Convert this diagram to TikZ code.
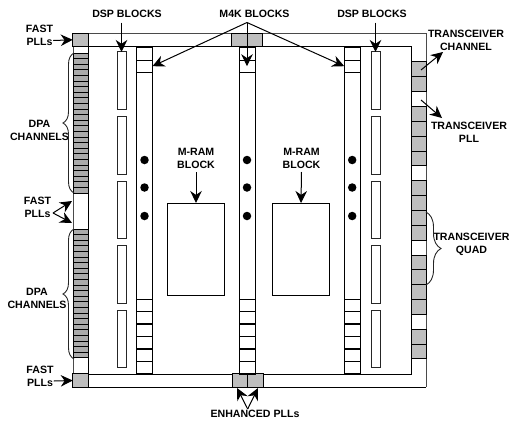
\documentclass[tikz,border=0pt]{standalone}
\usepackage{fontspec}
\setmainfont{Liberation Sans}
\usetikzlibrary{arrows.meta,decorations.pathreplacing}
\definecolor{blockgray}{HTML}{BEBEBE}
\definecolor{rowgray}{HTML}{ABABAB}
\definecolor{framegray}{HTML}{4A4A4A}
\tikzset{
  cellbox/.style={draw, line width=1pt, inner sep=0pt, outer sep=0pt, fill=white},
  graybox/.style={cellbox, fill=blockgray},
  dpabox/.style={cellbox, fill=rowgray, minimum width=15pt, minimum height=5.6pt},
  xcvrbox/.style={cellbox, fill=blockgray, minimum width=15pt, minimum height=14.85pt},
  dspbox/.style={cellbox, draw=black!85, minimum width=9pt, minimum height=57.5pt},
  m4kbox/.style={cellbox, minimum width=16pt, minimum height=12.4pt},
  rambox/.style={cellbox, minimum width=57pt, minimum height=92pt},
  pllbox/.style={graybox, minimum width=15.5pt, minimum height=13.5pt},
  dot/.style={circle, fill=black, inner sep=0pt, minimum size=8.5pt},
  lab/.style={align=center, inner sep=0pt, font=\fontsize{10.6}{13.2}\selectfont\bfseries},
  arr/.style={-{Stealth[length=12pt,width=11.5pt]}, line width=1pt},
  curly/.style={decorate, decoration={brace,amplitude=#1}, line width=0.9pt, draw=black!85}
}
\begin{document}
\begin{tikzpicture}[x=1pt,y=-1pt]
  \useasboundingbox (0,0) rectangle (509,424);
  \draw[line width=1pt, draw=framegray] (73,387) -- (73,33) -- (426,33) -- (426,387);
  \draw[line width=1pt] (73,387) -- (426,387);
  \draw[line width=1pt] (88,374) rectangle (411,46.5);
  \foreach \k in {0,...,24}
    \node[dpabox] (dpaa\k) at (80.5,55.8+5.6*\k) {};
  \foreach \k in {0,...,22}
    \node[dpabox] (dpab\k) at (80.5,231.8+5.6*\k) {};
  \foreach \k in {0,1,3,4,5,6,8,9,10,11,13,14,15,16,18,19}
    \node[xcvrbox] (xcvr\k) at (418.5,69.4+14.85*\k) {};
  \node[pllbox] (plltl) at (80.5,39.8) {};
  \node[pllbox] (pllbl) at (80.5,380.5) {};
  \node[pllbox] (plltop1) at (239.5,39.8) {};
  \node[pllbox] (plltop2) at (255,39.8) {};
  \node[pllbox] (pllbot1) at (240,380.5) {};
  \node[pllbox] (pllbot2) at (255.5,380.5) {};
  \foreach \i/\x in {1/121.5,2/375.5} {
    \foreach \n/\y in {a/80.7,b/145.5,c/210,d/274.7,e/339}
      \node[dspbox] (dsp\i\n) at (\x,\y) {};
  }
  \foreach \i/\x in {1/144.5,2/247,3/352.2} {
    \node[cellbox, minimum width=16pt, minimum height=327pt] (m4k\i) at (\x,210.5) {};
    \node[m4kbox] (m4ktop\i) at (\x,54) {};
    \node[m4kbox] (m4kmid\i) at (\x,66.2) {};
    \foreach \k in {0,...,5}
      \node[m4kbox] (m4kbot\i\k) at (\x,305.2+12.5*\k) {};
    \foreach \k/\y in {1/160,2/187.5,3/216}
      \node[dot] (dot\i\k) at (\x,\y) {};
  }
  \node[rambox] (mram1) at (196,249) {};
  \node[rambox] (mram2) at (301,249) {};
  \node[lab] (dsplab1) at (127,14) {DSP BLOCKS};
  \node[lab] (m4klab) at (254.5,14) {M4K BLOCKS};
  \node[lab] (dsplab2) at (372,14) {DSP BLOCKS};
  \node[lab] (fastlab1) at (39.5,35.5) {FAST\\PLLs};
  \node[lab] (fastlab2) at (37.5,207.5) {FAST\\PLLs};
  \node[lab] (fastlab3) at (40,376.5) {FAST\\PLLs};
  \node[lab] (dpalab1) at (39.5,130) {DPA\\CHANNELS};
  \node[lab] (dpalab2) at (37,298.5) {DPA\\CHANNELS};
  \node[lab] (ramlab1) at (196,158.5) {M-RAM\\BLOCK};
  \node[lab] (ramlab2) at (301.5,158.5) {M-RAM\\BLOCK};
  \node[lab] (chanlab) at (466,40.5) {TRANSCEIVER\\CHANNEL};
  \node[lab] (xpll) at (469,132.5) {TRANSCEIVER\\PLL};
  \node[lab] (quadlab) at (471.5,244.5) {TRANSCEIVER\\QUAD};
  \node[lab] (enhlab) at (255,414) {ENHANCED PLLs};
  \coordinate (m4kapex) at (247,22.5);
  \coordinate (fastapex) at (53,213);
  \coordinate (fastup) at (72,201);
  \coordinate (fastdown) at (72,223);
  \coordinate (enhapex) at (247.7,409);
  \coordinate (enhleft) at (237,388);
  \coordinate (enhright) at (258,388);
  \coordinate (chanfrom) at (421,70);
  \coordinate (chanto) at (443,52);
  \coordinate (pllfrom) at (421,100);
  \coordinate (pllto) at (442,118);
  \draw[arr] (121.5,22.5) -- (dsp1a.north);
  \draw[arr] (375.5,22.5) -- (dsp2a.north);
  \foreach \t/\a in {m4kmid1/east,m4kmid2/center,m4kmid3/west}
    \draw[arr] (m4kapex) -- (\t.\a);
  \draw[arr] (fastlab1.east |- 0,40.5) -- (plltl.west);
  \draw[arr] (fastlab3.east |- 0,381) -- (pllbl.west);
  \draw[arr] (fastapex) -- (fastup);
  \draw[arr] (fastapex) -- (fastdown);
  \draw[arr] (ramlab1.south) ++(0,3) -- (mram1.north);
  \draw[arr] (ramlab2.south) ++(0,3) -- (mram2.north);
  \draw[arr] (chanfrom) -- (chanto);
  \draw[arr] (pllfrom) -- (pllto);
  \draw[arr] (enhapex) -- (enhleft);
  \draw[arr] (enhapex) -- (enhright);
  \draw[curly=11pt] (74,193) -- (74,53);
  \draw[curly=11pt] (74,359) -- (74,229);
  \draw[curly=15pt] (426,212) -- (426,285);
\end{tikzpicture}
\end{document}
